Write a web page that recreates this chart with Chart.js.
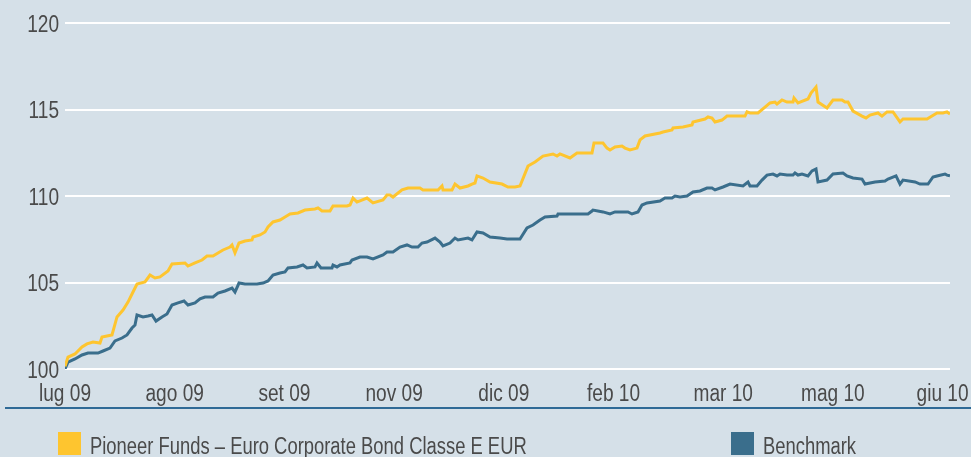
<!DOCTYPE html>
<html>
<head>
<meta charset="utf-8">
<script src="https://cdn.jsdelivr.net/npm/chart.js@4/dist/chart.umd.min.js"></script>
<style>
  html, body { margin: 0; padding: 0; background: #d5e0e8; }
  #wrap { position: relative; width: 971px; height: 457px; overflow: hidden; background: #d5e0e8; }
  #myChart { position: absolute; left: 0; top: 0; }
  .legend-item { position: absolute; top: 432px; height: 23px; white-space: nowrap;
    font-family: "Liberation Sans", Arial, sans-serif; font-size: 23px; color: #4a4a4a; }
  .legend-item .box { position: absolute; left: 0; top: 0; width: 23px; height: 23px; }
  .legend-item .txt { position: absolute; left: 32px; top: 3px; line-height: 23px; display: inline-block;
    transform: scaleX(0.8); transform-origin: left center; }
</style>
</head>
<body>
<div id="wrap">
  <canvas id="myChart" width="971" height="457"></canvas>
  <div class="legend-item" style="left:58px"><span class="box" style="background:#fec52f"></span><span class="txt">Pioneer Funds – Euro Corporate Bond Classe E EUR</span></div>
  <div class="legend-item" style="left:731px"><span class="box" style="background:#3a6e8c"></span><span class="txt">Benchmark</span></div>
</div>
<script>
// month labels, evenly spaced along the time axis (trading day index)
const monthLabels = ["lug 09", "ago 09", "set 09", "nov 09", "dic 09", "feb 10", "mar 10", "mag 10", "giu 10"];
const labelStep = 109.7;
const lastDay = 885;

const yTicks = [100, 105, 110, 115, 120];

const fundDays = [0,3,10,17,22,28,35,37,42,47,52,58,63,68,72,80,85,90,95,103,107,120,123,130,137,142,148,153,158,165,167,170,174,180,187,188,195,200,203,208,215,220,225,233,240,250,253,257,265,268,282,285,288,292,302,308,318,322,325,328,337,343,355,358,373,377,378,387,390,395,403,407,410,412,418,425,437,443,450,455,463,470,478,488,492,495,505,512,527,529,538,542,545,550,557,560,565,572,575,580,595,598,607,608,618,627,628,640,643,647,650,657,662,680,682,685,693,700,705,710,712,717,722,728,729,733,735,743,746,751,753,762,768,777,780,783,788,797,801,805,813,817,822,828,835,838,862,872,878,882,885];
const fundValues = [100.15,100.69,100.87,101.27,101.45,101.56,101.50,101.85,101.91,101.97,103.01,103.41,103.87,104.45,104.91,105.03,105.43,105.26,105.32,105.66,106.07,106.13,105.95,106.13,106.30,106.53,106.53,106.71,106.88,107.05,107.17,106.71,107.28,107.40,107.46,107.63,107.75,107.92,108.21,108.50,108.61,108.79,108.96,109.02,109.19,109.25,109.31,109.13,109.13,109.42,109.42,109.48,109.88,109.65,109.88,109.60,109.77,110.06,110.06,109.94,110.35,110.46,110.46,110.35,110.35,110.58,110.35,110.35,110.69,110.46,110.58,110.69,110.75,111.16,111.04,110.81,110.69,110.52,110.52,110.58,111.73,111.97,112.31,112.43,112.31,112.43,112.20,112.49,112.49,113.06,113.06,112.77,112.66,112.83,112.89,112.77,112.66,112.77,113.24,113.47,113.64,113.70,113.82,113.93,113.99,114.10,114.28,114.45,114.57,114.51,114.28,114.39,114.62,114.62,114.86,114.80,114.80,115.14,115.38,115.43,115.32,115.55,115.43,115.43,115.66,115.38,115.43,115.61,115.95,116.30,115.43,115.09,115.55,115.55,115.43,115.43,114.91,114.62,114.51,114.68,114.80,114.62,114.86,114.86,114.28,114.45,114.45,114.80,114.80,114.86,114.74];

const benchDays = [0,3,10,17,23,33,38,45,50,57,62,67,70,72,78,83,87,91,97,102,107,113,119,123,130,135,140,148,153,160,167,170,174,180,192,198,203,208,215,220,223,232,238,242,250,252,256,267,268,272,275,285,287,295,302,308,318,322,328,335,342,347,353,357,362,370,375,378,385,390,393,403,407,412,418,425,435,442,455,462,468,475,480,492,493,523,527,528,538,545,550,563,567,573,577,582,595,600,607,610,615,622,628,635,642,647,650,658,665,678,683,685,692,697,702,708,712,715,722,728,730,733,737,743,747,751,753,762,768,778,782,788,797,800,810,820,823,831,835,838,850,855,863,868,872,880,882,885];
const benchValues = [100.00,100.40,100.58,100.81,100.92,100.92,101.04,101.21,101.62,101.79,101.97,102.37,102.54,103.12,103.01,103.06,103.12,102.77,103.01,103.18,103.70,103.82,103.93,103.70,103.82,104.05,104.16,104.16,104.39,104.51,104.68,104.45,104.97,104.91,104.91,104.97,105.09,105.43,105.55,105.61,105.84,105.90,106.01,105.84,105.90,106.13,105.84,105.84,106.01,105.90,106.01,106.13,106.30,106.47,106.47,106.36,106.59,106.76,106.76,107.05,107.17,107.05,107.05,107.28,107.34,107.57,107.34,107.11,107.28,107.57,107.46,107.57,107.46,107.92,107.86,107.63,107.57,107.51,107.51,108.15,108.32,108.61,108.79,108.84,108.96,108.96,109.13,109.19,109.08,108.96,109.08,109.08,108.96,109.08,109.48,109.60,109.71,109.88,109.88,110.00,109.94,110.00,110.23,110.29,110.46,110.46,110.35,110.52,110.69,110.58,110.81,110.58,110.58,110.92,111.21,111.27,111.16,111.27,111.21,111.21,111.33,111.21,111.27,111.16,111.45,111.56,110.81,110.92,111.27,111.33,111.16,111.04,110.98,110.69,110.81,110.87,110.98,111.16,110.69,110.92,110.81,110.69,110.69,111.10,111.16,111.27,111.21,111.16];

const labelFont = '23px "Liberation Sans", Arial, sans-serif';
const textColor = "#4a4a4a";
const squeeze = 0.83; // the original uses a condensed face

const toPoints = (xs, ys) => xs.map((x, i) => ({ x: x, y: ys[i] }));

// tick labels drawn condensed, at the positions the scales give
const condensedTicks = {
  id: "condensedTicks",
  afterDraw(chart) {
    const ctx = chart.ctx;
    const xs = chart.scales.x;
    const ys = chart.scales.y;
    ctx.save();
    ctx.font = labelFont;
    ctx.fillStyle = textColor;
    ctx.scale(squeeze, 1);
    ctx.textBaseline = "alphabetic";

    ctx.textAlign = "right";
    ys.ticks.forEach((t) => {
      ctx.fillText(String(t.value), 59 / squeeze, ys.getPixelForValue(t.value) + 8.5);
    });

    ctx.textAlign = "center";
    xs.ticks.forEach((t, i) => {
      ctx.fillText(monthLabels[i], xs.getPixelForValue(t.value) / squeeze, 401);
    });
    ctx.restore();

    // dark rule under the month labels
    ctx.save();
    ctx.strokeStyle = "#2f6a96";
    ctx.lineWidth = 2;
    ctx.beginPath();
    ctx.moveTo(5, 408);
    ctx.lineTo(chart.width, 408);
    ctx.stroke();
    ctx.restore();
  },
};

const data = {
  datasets: [
    {
      label: "Pioneer Funds – Euro Corporate Bond Classe E EUR",
      data: toPoints(fundDays, fundValues),
      borderColor: "#fec52f",
      borderWidth: 3,
      pointRadius: 0,
      tension: 0,
    },
    {
      label: "Benchmark",
      data: toPoints(benchDays, benchValues),
      borderColor: "#3a6e8c",
      borderWidth: 3,
      pointRadius: 0,
      tension: 0,
    },
  ],
};

const options = {
  responsive: false,
  animation: false,
  devicePixelRatio: 1,
  layout: { padding: { top: 23, right: 21, bottom: 0, left: 0 } },
  plugins: {
    legend: { display: false },
    tooltip: { enabled: false },
  },
  scales: {
    x: {
      type: "linear",
      min: 0,
      max: lastDay,
      grid: { display: false },
      border: { display: false },
      afterBuildTicks: (scale) => {
        scale.ticks = monthLabels.map((l, i) => ({ value: i * labelStep }));
      },
      afterFit: (scale) => {
        scale.height = 88;
        scale.paddingLeft = 0;
        scale.paddingRight = 0;
      },
      ticks: { display: false },
    },
    y: {
      min: 100,
      max: 120,
      grid: { color: "#ffffff", lineWidth: 2, drawTicks: false },
      border: { display: false },
      afterBuildTicks: (scale) => {
        scale.ticks = yTicks.map((v) => ({ value: v }));
      },
      afterFit: (scale) => {
        scale.width = 65;
        scale.paddingTop = 0;
        scale.paddingBottom = 0;
      },
      ticks: { display: false },
    },
  },
};

const ctx = document.getElementById("myChart").getContext("2d");
new Chart(ctx, { type: "line", data, options, plugins: [condensedTicks] });
</script>
</body>
</html>
